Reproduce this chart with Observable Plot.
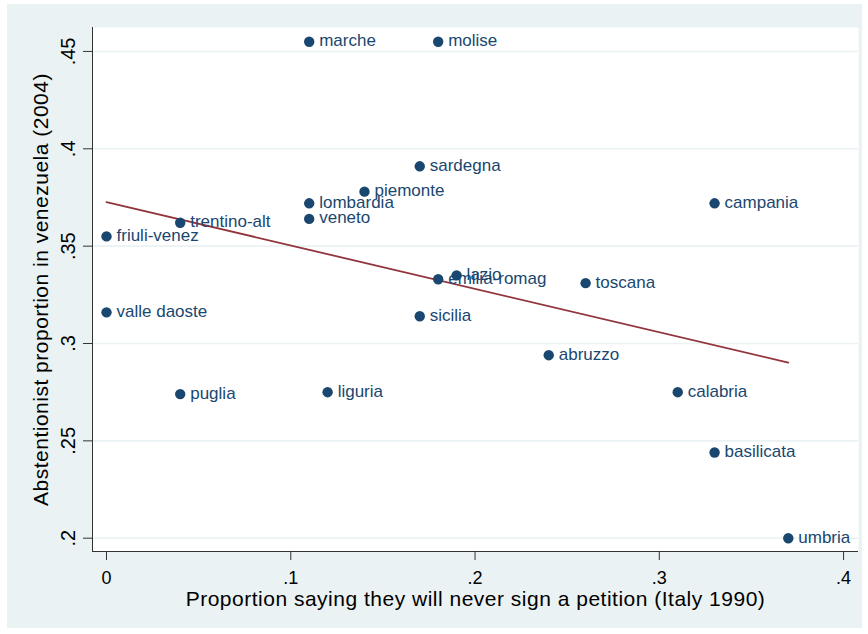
<!DOCTYPE html>
<html><head><meta charset="utf-8">
<script src="https://cdn.jsdelivr.net/npm/d3@7"></script>
<script src="https://cdn.jsdelivr.net/npm/@observablehq/plot@0.6"></script>
<style>
body{margin:0;background:#fff;}
#wrap{position:relative;width:868px;height:634px;}
#bg{position:absolute;left:7px;top:4px;width:855px;height:624px;background:#eaf2f3;}
#chart{position:absolute;left:0;top:0;}
g[aria-label="x-axis label"] text, g[aria-label="y-axis label"] text{letter-spacing:0.5px;}
</style></head><body>
<div id="wrap"><div id="bg"></div><div id="chart"></div></div>
<script>
const regions = ["marche","molise","sardegna","piemonte","lombardia","veneto","trentino-alt","friuli-venez","campania","lazio","emilia-romag","toscana","valle daoste","sicilia","abruzzo","puglia","liguria","calabria","basilicata","umbria"];
const neverSign = [0.11,0.18,0.17,0.14,0.11,0.11,0.04,0.00,0.33,0.19,0.18,0.26,0.00,0.17,0.24,0.04,0.12,0.31,0.33,0.37];
const abstention = [0.455,0.455,0.391,0.378,0.372,0.364,0.362,0.355,0.372,0.335,0.333,0.331,0.316,0.314,0.294,0.274,0.275,0.275,0.244,0.200];
const xTicks = [0, 0.1, 0.2, 0.3, 0.4];
const yTicks = [0.2, 0.25, 0.3, 0.35, 0.4, 0.45];
const xTitle = "Proportion saying they will never sign a petition (Italy 1990)";
const yTitle = "Abstentionist proportion in venezuela (2004)";

const data = regions.map((r, i) => ({region: r, x: neverSign[i], y: abstention[i]}));
const xDom = [-0.0076, 0.4081];
const yDom = [0.19317, 0.4623];
const fmt = d => d === 0 ? "0" : String(d).replace(/^0/, "");
const axisColor = "#333333";

const chart = Plot.plot({
  width: 868, height: 634,
  marginLeft: 92, marginRight: 10, marginTop: 27, marginBottom: 83,
  style: {background: "transparent", fontFamily: "'Liberation Sans', Arial, sans-serif", color: "#000"},
  x: {domain: xDom},
  y: {domain: yDom},
  marks: [
    Plot.frame({fill: "white", stroke: "none"}),
    Plot.gridY(yTicks, {stroke: "#eaf2f3", strokeOpacity: 1, strokeWidth: 1.6}),
    Plot.ruleX([xDom[0]], {stroke: axisColor}),
    Plot.ruleY([yDom[0]], {stroke: axisColor}),
    Plot.linearRegressionY(data, {x: "x", y: "y", ci: 0, stroke: "#90353b", strokeWidth: 1.8}),
    Plot.dot(data, {x: "x", y: "y", r: 5.2, fill: "#1a476f", stroke: "none"}),
    Plot.text(data, {x: "x", y: "y", text: "region", textAnchor: "start", dx: 10, dy: -1, fill: "#1a476f", fontSize: 17}),
    Plot.axisX(xTicks, {tickSize: 9, tickPadding: 11, tickFormat: fmt, fontSize: 18, stroke: axisColor, fill: "#000",
      label: xTitle, labelAnchor: "center", labelOffset: 54, labelArrow: "none"}),
    Plot.axisY(yTicks, {tickSize: 9, tickPadding: 9, tickRotate: -90, tickFormat: fmt, fontSize: 20, stroke: axisColor, fill: "#000",
      label: yTitle, labelAnchor: "center", labelOffset: 59, labelArrow: "none"})
  ]
});
chart.querySelectorAll('g[aria-label="x-axis label"] text, g[aria-label="y-axis label"] text').forEach(t => {
  t.setAttribute("font-size", 21);
  t.textContent = t.textContent.replace(/\s*[→←↑↓]\s*/g, "");
});
document.getElementById("chart").appendChild(chart);
</script>
</body></html>
